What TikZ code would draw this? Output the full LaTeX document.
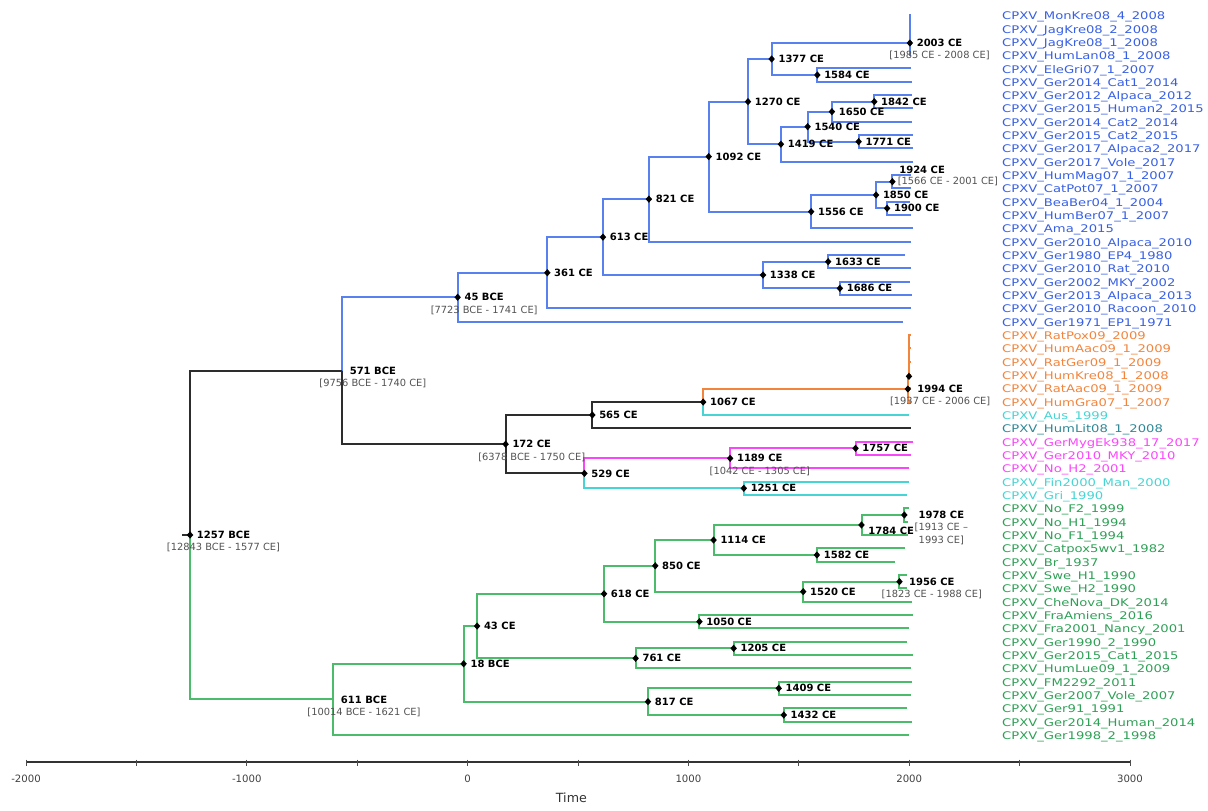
\documentclass[tikz,border=0pt]{standalone}
\usepackage{fontspec}
\setmainfont{DejaVu Sans}
\newfontfamily\tipfont{DejaVu Sans}[FakeStretch=1.25]
\usepackage{tikz}
\usetikzlibrary{shapes.geometric, positioning}

\definecolor{treeblue}{RGB}{88,128,238}
\definecolor{tipblue}{RGB}{55,95,228}
\definecolor{treeorange}{RGB}{242,132,60}
\definecolor{treecyan}{RGB}{70,212,212}
\definecolor{tipteal}{RGB}{45,135,150}
\definecolor{treemagenta}{RGB}{250,70,250}
\definecolor{treegreen}{RGB}{75,188,105}
\definecolor{tipgreen}{RGB}{45,160,85}
\definecolor{treeblack}{RGB}{45,45,45}

\begin{document}
\begin{tikzpicture}[x=0.1656pt, y=-10pt,
  branch/.style={line width=1.5pt, line join=miter},
  knot/.style={diamond, fill=black, inner sep=0pt, minimum width=5pt, minimum height=5.6pt},
  age/.style={anchor=west, xshift=4.5pt, inner sep=0.5pt, font=\bfseries\fontsize{7.5}{8}\selectfont},
  hpd/.style={inner sep=0.5pt, text=black!68, font=\fontsize{7.4}{9.5}\selectfont},
  tip/.style={anchor=base west, inner sep=0pt, yshift=-3.5pt, font=\tipfont\fontsize{7.9}{9}\selectfont}]
% x in years, y in tip rows
\useasboundingbox (-2117.8,-1.125) rectangle (3353.3,59.7);

% tips: branch end and name
\coordinate (l0) at (2008,0);   \node[tip,text=tipblue] (t0) at (2420,0) {CPXV\_MonKre08\_4\_2008};
\coordinate (l1) at (2008,1);   \node[tip,text=tipblue] (t1) at (2420,1) {CPXV\_JagKre08\_2\_2008};
\coordinate (l2) at (2008,2);   \node[tip,text=tipblue] (t2) at (2420,2) {CPXV\_JagKre08\_1\_2008};
\coordinate (l3) at (2008,3);   \node[tip,text=tipblue] (t3) at (2420,3) {CPXV\_HumLan08\_1\_2008};
\coordinate (l4) at (2007,4);   \node[tip,text=tipblue] (t4) at (2420,4) {CPXV\_EleGri07\_1\_2007};
\coordinate (l5) at (2014,5);   \node[tip,text=tipblue] (t5) at (2420,5) {CPXV\_Ger2014\_Cat1\_2014};
\coordinate (l6) at (2012,6);   \node[tip,text=tipblue] (t6) at (2420,6) {CPXV\_Ger2012\_Alpaca\_2012};
\coordinate (l7) at (2015,7);   \node[tip,text=tipblue] (t7) at (2420,7) {CPXV\_Ger2015\_Human2\_2015};
\coordinate (l8) at (2014,8);   \node[tip,text=tipblue] (t8) at (2420,8) {CPXV\_Ger2014\_Cat2\_2014};
\coordinate (l9) at (2015,9);   \node[tip,text=tipblue] (t9) at (2420,9) {CPXV\_Ger2015\_Cat2\_2015};
\coordinate (l10) at (2017,10); \node[tip,text=tipblue] (t10) at (2420,10) {CPXV\_Ger2017\_Alpaca2\_2017};
\coordinate (l11) at (2017,11); \node[tip,text=tipblue] (t11) at (2420,11) {CPXV\_Ger2017\_Vole\_2017};
\coordinate (l12) at (2007,12); \node[tip,text=tipblue] (t12) at (2420,12) {CPXV\_HumMag07\_1\_2007};
\coordinate (l13) at (2007,13); \node[tip,text=tipblue] (t13) at (2420,13) {CPXV\_CatPot07\_1\_2007};
\coordinate (l14) at (2004,14); \node[tip,text=tipblue] (t14) at (2420,14) {CPXV\_BeaBer04\_1\_2004};
\coordinate (l15) at (2007,15); \node[tip,text=tipblue] (t15) at (2420,15) {CPXV\_HumBer07\_1\_2007};
\coordinate (l16) at (2015,16); \node[tip,text=tipblue] (t16) at (2420,16) {CPXV\_Ama\_2015};
\coordinate (l17) at (2010,17); \node[tip,text=tipblue] (t17) at (2420,17) {CPXV\_Ger2010\_Alpaca\_2010};
\coordinate (l18) at (1980,18); \node[tip,text=tipblue] (t18) at (2420,18) {CPXV\_Ger1980\_EP4\_1980};
\coordinate (l19) at (2010,19); \node[tip,text=tipblue] (t19) at (2420,19) {CPXV\_Ger2010\_Rat\_2010};
\coordinate (l20) at (2002,20); \node[tip,text=tipblue] (t20) at (2420,20) {CPXV\_Ger2002\_MKY\_2002};
\coordinate (l21) at (2013,21); \node[tip,text=tipblue] (t21) at (2420,21) {CPXV\_Ger2013\_Alpaca\_2013};
\coordinate (l22) at (2010,22); \node[tip,text=tipblue] (t22) at (2420,22) {CPXV\_Ger2010\_Racoon\_2010};
\coordinate (l23) at (1971,23); \node[tip,text=tipblue] (t23) at (2420,23) {CPXV\_Ger1971\_EP1\_1971};
\coordinate (l24) at (2009,24); \node[tip,text=treeorange] (t24) at (2420,24) {CPXV\_RatPox09\_2009};
\coordinate (l25) at (2009,25); \node[tip,text=treeorange] (t25) at (2420,25) {CPXV\_HumAac09\_1\_2009};
\coordinate (l26) at (2009,26); \node[tip,text=treeorange] (t26) at (2420,26) {CPXV\_RatGer09\_1\_2009};
\coordinate (l27) at (2008,27); \node[tip,text=treeorange] (t27) at (2420,27) {CPXV\_HumKre08\_1\_2008};
\coordinate (l28) at (2009,28); \node[tip,text=treeorange] (t28) at (2420,28) {CPXV\_RatAac09\_1\_2009};
\coordinate (l29) at (2007,29); \node[tip,text=treeorange] (t29) at (2420,29) {CPXV\_HumGra07\_1\_2007};
\coordinate (l30) at (1999,30); \node[tip,text=treecyan] (t30) at (2420,30) {CPXV\_Aus\_1999};
\coordinate (l31) at (2008,31); \node[tip,text=tipteal] (t31) at (2420,31) {CPXV\_HumLit08\_1\_2008};
\coordinate (l32) at (2017,32); \node[tip,text=treemagenta] (t32) at (2420,32) {CPXV\_GerMygEk938\_17\_2017};
\coordinate (l33) at (2010,33); \node[tip,text=treemagenta] (t33) at (2420,33) {CPXV\_Ger2010\_MKY\_2010};
\coordinate (l34) at (2001,34); \node[tip,text=treemagenta] (t34) at (2420,34) {CPXV\_No\_H2\_2001};
\coordinate (l35) at (2000,35); \node[tip,text=treecyan] (t35) at (2420,35) {CPXV\_Fin2000\_Man\_2000};
\coordinate (l36) at (1990,36); \node[tip,text=treecyan] (t36) at (2420,36) {CPXV\_Gri\_1990};
\coordinate (l37) at (1999,37); \node[tip,text=tipgreen] (t37) at (2420,37) {CPXV\_No\_F2\_1999};
\coordinate (l38) at (1994,38); \node[tip,text=tipgreen] (t38) at (2420,38) {CPXV\_No\_H1\_1994};
\coordinate (l39) at (1994,39); \node[tip,text=tipgreen] (t39) at (2420,39) {CPXV\_No\_F1\_1994};
\coordinate (l40) at (1982,40); \node[tip,text=tipgreen] (t40) at (2420,40) {CPXV\_Catpox5wv1\_1982};
\coordinate (l41) at (1937,41); \node[tip,text=tipgreen] (t41) at (2420,41) {CPXV\_Br\_1937};
\coordinate (l42) at (1990,42); \node[tip,text=tipgreen] (t42) at (2420,42) {CPXV\_Swe\_H1\_1990};
\coordinate (l43) at (1990,43); \node[tip,text=tipgreen] (t43) at (2420,43) {CPXV\_Swe\_H2\_1990};
\coordinate (l44) at (2014,44); \node[tip,text=tipgreen] (t44) at (2420,44) {CPXV\_CheNova\_DK\_2014};
\coordinate (l45) at (2016,45); \node[tip,text=tipgreen] (t45) at (2420,45) {CPXV\_FraAmiens\_2016};
\coordinate (l46) at (2001,46); \node[tip,text=tipgreen] (t46) at (2420,46) {CPXV\_Fra2001\_Nancy\_2001};
\coordinate (l47) at (1990,47); \node[tip,text=tipgreen] (t47) at (2420,47) {CPXV\_Ger1990\_2\_1990};
\coordinate (l48) at (2015,48); \node[tip,text=tipgreen] (t48) at (2420,48) {CPXV\_Ger2015\_Cat1\_2015};
\coordinate (l49) at (2009,49); \node[tip,text=tipgreen] (t49) at (2420,49) {CPXV\_HumLue09\_1\_2009};
\coordinate (l50) at (2011,50); \node[tip,text=tipgreen] (t50) at (2420,50) {CPXV\_FM2292\_2011};
\coordinate (l51) at (2007,51); \node[tip,text=tipgreen] (t51) at (2420,51) {CPXV\_Ger2007\_Vole\_2007};
\coordinate (l52) at (1991,52); \node[tip,text=tipgreen] (t52) at (2420,52) {CPXV\_Ger91\_1991};
\coordinate (l53) at (2014,53); \node[tip,text=tipgreen] (t53) at (2420,53) {CPXV\_Ger2014\_Human\_2014};
\coordinate (l54) at (1998,54); \node[tip,text=tipgreen] (t54) at (2420,54) {CPXV\_Ger1998\_2\_1998};

% internal nodes (year, row)
\coordinate (n2003) at (2003,2.1);
\coordinate (n1584) at (1584,4.5);
\coordinate (n1377) at (1377,3.3);
\coordinate (n1842) at (1842,6.5);
\coordinate (n1650) at (1650,7.25);
\coordinate (n1771) at (1771,9.5);
\coordinate (n1540) at (1540,8.375);
\coordinate (n1419) at (1419,9.69);
\coordinate (n1270) at (1270,6.5);
\coordinate (n1924) at (1924,12.5);
\coordinate (n1900) at (1900,14.5);
\coordinate (n1850) at (1850,13.5);
\coordinate (n1556) at (1556,14.75);
\coordinate (n1092) at (1092,10.62);
\coordinate (n821) at (821,13.81);
\coordinate (n1633) at (1633,18.5);
\coordinate (n1686) at (1686,20.5);
\coordinate (n1338) at (1338,19.5);
\coordinate (n613) at (613,16.66);
\coordinate (n361) at (361,19.33);
\coordinate (n45b) at (-45,21.17);
\coordinate (n1999) at (1999,27.1);
\coordinate (n1994) at (1994,28.05);
\coordinate (n1067) at (1067,29.03);
\coordinate (n565) at (565,30);
\coordinate (n1757) at (1757,32.5);
\coordinate (n1189) at (1189,33.25);
\coordinate (n1251) at (1251,35.5);
\coordinate (n529) at (529,34.38);
\coordinate (n172) at (172,32.19);
\coordinate (n571b) at (-571,26.68);
\coordinate (n1978) at (1978,37.5);
\coordinate (n1784) at (1784,38.25);
\coordinate (n1582) at (1582,40.5);
\coordinate (n1114) at (1114,39.38);
\coordinate (n1956) at (1956,42.5);
\coordinate (n1520) at (1520,43.25);
\coordinate (n850) at (850,41.31);
\coordinate (n1050) at (1050,45.5);
\coordinate (n618) at (618,43.41);
\coordinate (n1205) at (1205,47.5);
\coordinate (n761) at (761,48.25);
\coordinate (n43) at (43,45.83);
\coordinate (n1409) at (1409,50.5);
\coordinate (n1432) at (1432,52.5);
\coordinate (n817) at (817,51.5);
\coordinate (n18b) at (-18,48.66);
\coordinate (n611b) at (-611,51.33);
\coordinate (n1257b) at (-1257,39);
\coordinate (root) at (-1292,39);

% blue clade
\begin{scope}[branch, treeblue]
\draw (n2003) |- (l0) (n2003) |- (l1) (n2003) |- (l2) (n2003) |- (l3);
\draw (n1584) |- (l4) (n1584) |- (l5);
\draw (n1377) |- (n2003) (n1377) |- (n1584);
\draw (n1842) |- (l6) (n1842) |- (l7);
\draw (n1650) |- (n1842) (n1650) |- (l8);
\draw (n1771) |- (l9) (n1771) |- (l10);
\draw (n1540) |- (n1650) (n1540) |- (n1771);
\draw (n1419) |- (n1540) (n1419) |- (l11);
\draw (n1270) |- (n1377) (n1270) |- (n1419);
\draw (n1924) |- (l12) (n1924) |- (l13);
\draw (n1900) |- (l14) (n1900) |- (l15);
\draw (n1850) |- (n1924) (n1850) |- (n1900);
\draw (n1556) |- (n1850) (n1556) |- (l16);
\draw (n1092) |- (n1270) (n1092) |- (n1556);
\draw (n821) |- (n1092) (n821) |- (l17);
\draw (n1633) |- (l18) (n1633) |- (l19);
\draw (n1686) |- (l20) (n1686) |- (l21);
\draw (n1338) |- (n1633) (n1338) |- (n1686);
\draw (n613) |- (n821) (n613) |- (n1338);
\draw (n361) |- (n613) (n361) |- (l22);
\draw (n45b) |- (n361) (n45b) |- (l23);
\draw (n571b) |- (n45b);
\end{scope}

% backbone
\begin{scope}[branch, treeblack]
\draw (root) -- (n1257b);
\draw (n1257b) |- (n571b);
\draw (n571b) |- (n172);
\draw (n172) |- (n565) (n172) |- (n529);
\draw (n565) |- (n1067) (n565) |- (l31);
\end{scope}

% orange clade
\begin{scope}[branch, treeorange]
\draw (n1067) |- (n1994);
\draw (n1994) |- (n1999) (n1994) |- (l28) (n1994) |- (l29);
\draw (n1999) |- (l24) (n1999) |- (l25) (n1999) |- (l26) (n1999) |- (l27);
\end{scope}

% cyan and magenta
\begin{scope}[branch, treecyan]
\draw (n1067) |- (l30);
\draw (n529) |- (n1251);
\draw (n1251) |- (l35) (n1251) |- (l36);
\end{scope}
\begin{scope}[branch, treemagenta]
\draw (n529) |- (n1189);
\draw (n1189) |- (n1757) (n1189) |- (l34);
\draw (n1757) |- (l32) (n1757) |- (l33);
\end{scope}

% green clade
\begin{scope}[branch, treegreen]
\draw (n1257b) |- (n611b);
\draw (n611b) |- (n18b) (n611b) |- (l54);
\draw (n18b) |- (n43) (n18b) |- (n817);
\draw (n43) |- (n618) (n43) |- (n761);
\draw (n618) |- (n850) (n618) |- (n1050);
\draw (n850) |- (n1114) (n850) |- (n1520);
\draw (n1114) |- (n1784) (n1114) |- (n1582);
\draw (n1784) |- (n1978) (n1784) |- (l39);
\draw (n1978) |- (l37) (n1978) |- (l38);
\draw (n1582) |- (l40) (n1582) |- (l41);
\draw (n1520) |- (n1956) (n1520) |- (l44);
\draw (n1956) |- (l42) (n1956) |- (l43);
\draw (n1050) |- (l45) (n1050) |- (l46);
\draw (n761) |- (n1205) (n761) |- (l49);
\draw (n1205) |- (l47) (n1205) |- (l48);
\draw (n817) |- (n1409) (n817) |- (n1432);
\draw (n1409) |- (l50) (n1409) |- (l51);
\draw (n1432) |- (l52) (n1432) |- (l53);
\end{scope}

% node markers
\node[knot] (d2003) at (n2003) {};
\node[knot] (d1584) at (n1584) {};
\node[knot] (d1377) at (n1377) {};
\node[knot] (d1842) at (n1842) {};
\node[knot] (d1650) at (n1650) {};
\node[knot] (d1771) at (n1771) {};
\node[knot] (d1540) at (n1540) {};
\node[knot] (d1419) at (n1419) {};
\node[knot] (d1270) at (n1270) {};
\node[knot] (d1924) at (n1924) {};
\node[knot] (d1900) at (n1900) {};
\node[knot] (d1850) at (n1850) {};
\node[knot] (d1556) at (n1556) {};
\node[knot] (d1092) at (n1092) {};
\node[knot] (d821) at (n821) {};
\node[knot] (d1633) at (n1633) {};
\node[knot] (d1686) at (n1686) {};
\node[knot] (d1338) at (n1338) {};
\node[knot] (d613) at (n613) {};
\node[knot] (d361) at (n361) {};
\node[knot] (d45b) at (n45b) {};
\node[knot] (d1999) at (n1999) {};
\node[knot] (d1994) at (n1994) {};
\node[knot] (d1067) at (n1067) {};
\node[knot] (d565) at (n565) {};
\node[knot] (d1757) at (n1757) {};
\node[knot] (d1189) at (n1189) {};
\node[knot] (d1251) at (n1251) {};
\node[knot] (d529) at (n529) {};
\node[knot] (d172) at (n172) {};
\node[knot] (d1257b) at (n1257b) {};
\node[knot] (d1978) at (n1978) {};
\node[knot] (d1784) at (n1784) {};
\node[knot] (d1582) at (n1582) {};
\node[knot] (d1114) at (n1114) {};
\node[knot] (d1956) at (n1956) {};
\node[knot] (d1520) at (n1520) {};
\node[knot] (d850) at (n850) {};
\node[knot] (d1050) at (n1050) {};
\node[knot] (d618) at (n618) {};
\node[knot] (d1205) at (n1205) {};
\node[knot] (d761) at (n761) {};
\node[knot] (d43) at (n43) {};
\node[knot] (d1409) at (n1409) {};
\node[knot] (d1432) at (n1432) {};
\node[knot] (d817) at (n817) {};
\node[knot] (d18b) at (n18b) {};

% node ages
\node[age] (a2003) at (n2003) {2003 CE};
\node[age] (a1584) at (n1584) {1584 CE};
\node[age] (a1377) at (n1377) {1377 CE};
\node[age] (a1842) at (n1842) {1842 CE};
\node[age] (a1650) at (n1650) {1650 CE};
\node[age] (a1771) at (n1771) {1771 CE};
\node[age] (a1540) at (n1540) {1540 CE};
\node[age] (a1419) at (n1419) {1419 CE};
\node[age] (a1270) at (n1270) {1270 CE};
\node[age, yshift=8.8pt] (a1924) at (n1924) {1924 CE};
\node[age] (a1900) at (n1900) {1900 CE};
\node[age] (a1850) at (n1850) {1850 CE};
\node[age] (a1556) at (n1556) {1556 CE};
\node[age] (a1092) at (n1092) {1092 CE};
\node[age] (a821) at (n821) {821 CE};
\node[age] (a1633) at (n1633) {1633 CE};
\node[age] (a1686) at (n1686) {1686 CE};
\node[age] (a1338) at (n1338) {1338 CE};
\node[age] (a613) at (n613) {613 CE};
\node[age] (a361) at (n361) {361 CE};
\node[age] (a45b) at (n45b) {45 BCE};
\node[age, xshift=1pt] (a571b) at (n571b) {571 BCE};
\node[age, xshift=2pt] (a1994) at (n1994) {1994 CE};
\node[age] (a1067) at (n1067) {1067 CE};
\node[age] (a565) at (n565) {565 CE};
\node[age] (a1757) at (n1757) {1757 CE};
\node[age] (a1189) at (n1189) {1189 CE};
\node[age] (a1251) at (n1251) {1251 CE};
\node[age] (a529) at (n529) {529 CE};
\node[age] (a172) at (n172) {172 CE};
\node[age] (a1257b) at (n1257b) {1257 BCE};
\node[age, xshift=5.5pt] (a1978) at (n1978) {1978 CE};
\node[age, yshift=-4.3pt] (a1784) at (n1784) {1784 CE};
\node[age] (a1582) at (n1582) {1582 CE};
\node[age] (a1114) at (n1114) {1114 CE};
\node[age, xshift=2pt] (a1956) at (n1956) {1956 CE};
\node[age] (a1520) at (n1520) {1520 CE};
\node[age] (a850) at (n850) {850 CE};
\node[age] (a1050) at (n1050) {1050 CE};
\node[age] (a618) at (n618) {618 CE};
\node[age] (a1205) at (n1205) {1205 CE};
\node[age] (a761) at (n761) {761 CE};
\node[age] (a43) at (n43) {43 CE};
\node[age] (a1409) at (n1409) {1409 CE};
\node[age] (a1432) at (n1432) {1432 CE};
\node[age] (a817) at (n817) {817 CE};
\node[age] (a18b) at (n18b) {18 BCE};
\node[age, xshift=1pt] (a611b) at (n611b) {611 BCE};

% 95% intervals
\node[hpd, below=2pt of a2003] (h2003) {[1985 CE - 2008 CE]};
\node[hpd, anchor=west, xshift=3.3pt] (h1924) at (n1924) {[1566 CE - 2001 CE]};
\node[hpd, below=2pt of a45b] (h45b) {[7723 BCE - 1741 CE]};
\node[hpd, below=2pt of a571b] (h571b) {[9756 BCE - 1740 CE]};
\node[hpd, below=2pt of a1994] (h1994) {[1937 CE - 2006 CE]};
\node[hpd, below=2pt of a172] (h172) {[6378 BCE - 1750 CE]};
\node[hpd, below=2pt of a1189] (h1189) {[1042 CE - 1305 CE]};
\node[hpd, below=2pt of a1257b] (h1257b) {[12843 BCE - 1577 CE]};
\node[hpd, below=2pt of a1978, align=center] (h1978) {[1913 CE --\\1993 CE]};
\node[hpd, below=2pt of a1956] (h1956) {[1823 CE - 1988 CE]};
\node[hpd, below=2pt of a611b] (h611b) {[10014 BCE - 1621 CE]};

% time axis
\coordinate (ax0) at (-2000,56.04);
\coordinate (ax1) at (3000,56.04);
\draw[line width=1.6pt, black!80] (ax0) -- (ax1);
\foreach \t in {-2000,-1500,...,3000}
  \draw[line width=0.6pt, black!70] (\t,55.85) -- (\t,56.3);
\foreach \t in {-2000,-1000,0,1000,2000,3000}
  \node[font=\fontsize{7.6}{8}\selectfont, text=black!75] (tick\t) at (\t,57.3) {\t};
\node[font=\fontsize{9.5}{11}\selectfont, text=black!80] (time) at (470,58.7) {Time};
\end{tikzpicture}
\end{document}
